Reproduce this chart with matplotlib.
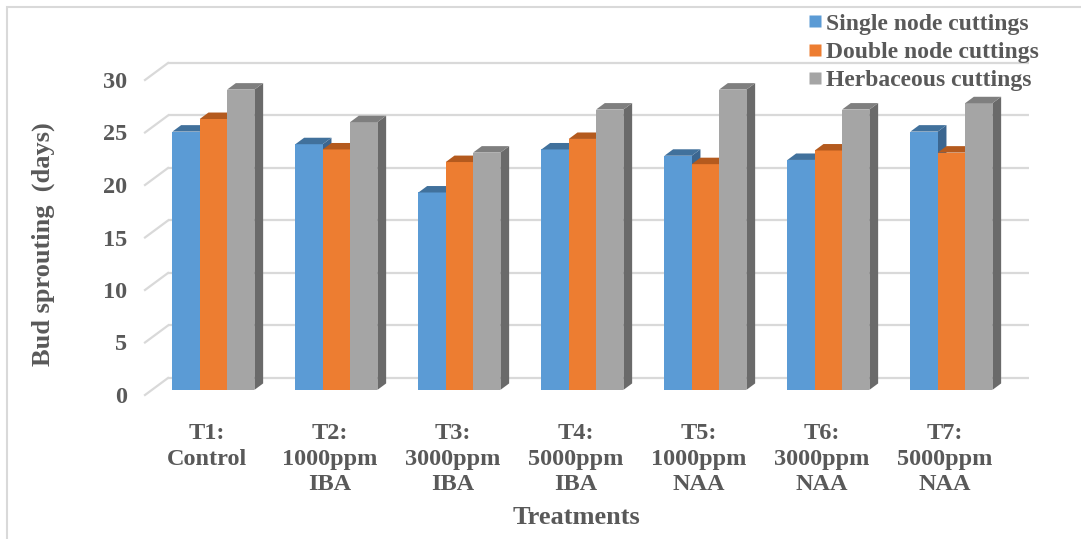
import matplotlib
matplotlib.use("Agg")
import matplotlib.pyplot as plt
from matplotlib.patches import Polygon, Rectangle
from matplotlib.lines import Line2D

# data
treatments = ["T1:\nControl", "T2:\n1000ppm\nIBA", "T3:\n3000ppm\nIBA",
              "T4:\n5000ppm\nIBA", "T5:\n1000ppm\nNAA", "T6:\n3000ppm\nNAA",
              "T7:\n5000ppm\nNAA"]
series_names = ["Single node cuttings", "Double node cuttings", "Herbaceous cuttings"]
single_node = [24.6, 23.4, 18.8, 22.9, 22.3, 21.9, 24.6]
double_node = [25.8, 22.9, 21.7, 23.9, 21.5, 22.8, 22.6]
herbaceous = [28.6, 25.5, 22.6, 26.7, 28.6, 26.7, 27.3]
y_ticks = [0, 5, 10, 15, 20, 25, 30]

series = [single_node, double_node, herbaceous]
front_cols = ["#5b9bd5", "#ed7d31", "#a5a5a5"]
top_cols = ["#41719c", "#b45a1e", "#7f7f7f"]
side_cols = ["#3b6690", "#a0501a", "#6a6a6a"]
txt_col = "#595959"
grid_col = "#d9d9d9"

plt.rcParams["font.family"] = ["Liberation Serif", "DejaVu Serif"]
plt.rcParams["font.weight"] = "bold"

W, H = 1081, 539
fig = plt.figure(figsize=(W / 100, H / 100), dpi=100)

# axes placed in pixels: front plane x=-0.5 at 145px, y=0 at 395px
DX, DY = 0.187, 1.62     # depth of floor (back wall offset)
x_left, x_right = -0.5, 6.5 + DX
y_bot, y_top = 0, 31.8
px_per_cat = 123
px_per_unit = 10.5
ax_l = 145
ax_w = (x_right - x_left) * px_per_cat
ax_b = H - 395
ax_h = (y_top - y_bot) * px_per_unit
ax = fig.add_axes([ax_l / W, ax_b / H, ax_w / W, ax_h / H])
ax.set_xlim(x_left, x_right)
ax.set_ylim(y_bot, y_top)
for s in ax.spines.values():
    s.set_visible(False)

# back wall gridlines + diagonal floor ticks
for v in y_ticks:
    ax.plot([-0.5 + DX, 6.5 + DX], [v + DY, v + DY], color=grid_col, lw=1.6,
            zorder=1, clip_on=False, solid_capstyle="butt")
    ax.plot([-0.5, -0.5 + DX], [v, v + DY], color=grid_col, lw=1.6,
            zorder=1, clip_on=False)

# 3d-ish bars
w = 1 / 4.5
f_front, f_depth = 0.3, 0.38
dx, dy = f_depth * DX, f_depth * DY
for j, vals in enumerate(series):
    lefts = [i - 1.5 * w + j * w + f_front * DX for i in range(len(vals))]
    y0 = f_front * DY
    ax.bar(lefts, vals, width=w, bottom=y0, align="edge", color=front_cols[j],
           zorder=2.5 + j, clip_on=False, label=series_names[j])
    for x0, h in zip(lefts, vals):
        side = Polygon([(x0 + w, y0), (x0 + w + dx, y0 + dy),
                        (x0 + w + dx, y0 + h + dy), (x0 + w, y0 + h)],
                       closed=True, facecolor=side_cols[j], edgecolor="none",
                       zorder=2 + j, clip_on=False)
        top = Polygon([(x0, y0 + h), (x0 + w, y0 + h),
                       (x0 + w + dx, y0 + h + dy), (x0 + dx, y0 + h + dy)],
                      closed=True, facecolor=top_cols[j], edgecolor="none",
                      zorder=2.6 + j, clip_on=False)
        ax.add_patch(side)
        ax.add_patch(top)

ax.set_xticks(range(len(treatments)))
ax.set_xticklabels(treatments, fontsize=17.5, color=txt_col, fontweight="bold",
                   linespacing=1.27)
ax.set_yticks(y_ticks)
ax.set_yticklabels([str(v) for v in y_ticks], fontsize=17.5, color=txt_col,
                   fontweight="bold")
ax.tick_params(axis="x", length=0, pad=20.5)
ax.tick_params(axis="y", length=0, pad=13)

fig.text(43 / W, 1 - 244 / H, "Bud sprouting  (days)", rotation=90,
         ha="center", va="center", fontsize=19, color=txt_col, fontweight="bold")
fig.text(576 / W, 1 - 517 / H, "Treatments", ha="center", va="center",
         fontsize=19, color=txt_col, fontweight="bold")

handles = [Line2D([], [], marker="s", linestyle="none", markersize=8.6,
                  markerfacecolor=c, markeredgecolor="none") for c in front_cols]
leg = fig.legend(handles, series_names, loc="upper left",
                 bbox_to_anchor=(808 / W, 1 - 13 / H), frameon=False,
                 fontsize=17, handlelength=0.6, handletextpad=0.17,
                 labelspacing=0.29, borderpad=0, borderaxespad=0)
for t in leg.get_texts():
    t.set_color(txt_col)
    t.set_fontweight("bold")

# outer chart frame (only left and top visible in the crop)
fig.patches.append(Rectangle((7 / W, -0.05), 1.2, 1 - 7 / H + 0.05,
                             transform=fig.transFigure, fill=False,
                             edgecolor=grid_col, lw=1.5))

fig.savefig("out.png", dpi=100)
